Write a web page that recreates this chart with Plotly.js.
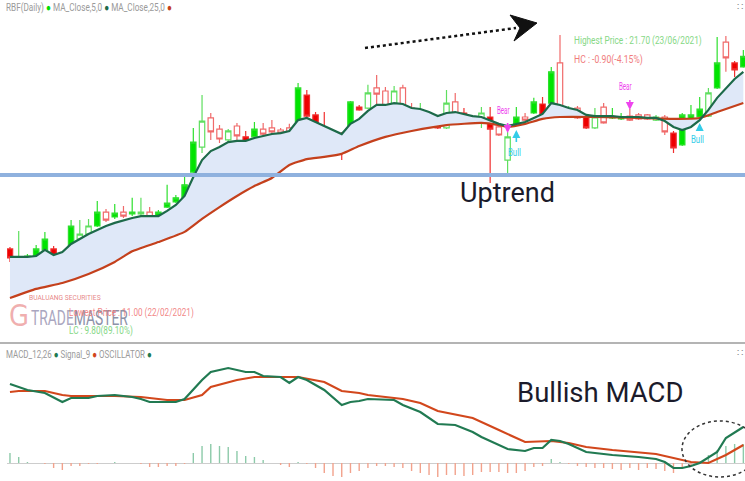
<!DOCTYPE html>
<html><head><meta charset="utf-8">
<script src="https://cdn.plot.ly/plotly-3.0.1.min.js"></script>
<style>html,body{margin:0;padding:0;background:#fff}#chart{width:745px;height:481px}</style>
</head><body><div id="chart"></div>
<script>
// ---- price data (per trading day) ----
const openP  = [12.65,12.06,12.27,12.35,12.61,12.65,11.84,12.14,13.07,13.28,13.62,14.21,14.00,14.21,14.13,14.13,14.21,14.00,14.42,14.64,14.81,15.90,16.96,18.19,17.72,17.26,17.85,17.39,17.39,17.72,17.77,17.68,17.77,18.02,19.16,18.32,17.64,17.55,17.17,17.39,18.65,18.61,19.46,19.33,18.61,19.46,18.61,18.49,18.32,18.23,17.77,18.87,18.40,18.15,18.02,18.23,17.81,16.41,17.94,18.23,18.40,18.78,18.82,20.52,18.32,18.61,18.23,17.77,18.65,18.19,18.15,18.27,18.32,18.32,18.10,18.23,17.55,17.05,17.98,18.23,18.27,19.46,21.40,20.52,20.35];
const highP  = [12.73,13.41,12.44,12.82,13.37,12.77,12.22,13.87,13.87,13.92,14.68,14.34,14.55,14.47,14.81,14.81,14.42,14.30,15.36,14.93,15.69,17.77,19.16,18.40,17.89,17.72,17.98,17.64,18.02,17.98,18.10,17.77,17.94,19.67,19.37,18.44,18.44,17.64,17.60,18.91,18.74,19.59,20.01,19.50,19.54,19.59,18.82,18.82,18.40,18.27,19.37,19.25,18.61,18.23,18.65,18.65,17.89,17.60,18.65,18.40,19.04,19.08,20.35,21.70,18.70,18.70,18.32,18.61,18.82,18.61,18.40,18.57,18.40,18.36,18.32,18.32,17.64,18.40,18.74,19.08,19.46,21.62,21.66,20.60,21.07];
const lowP   = [12.10,12.01,12.18,12.31,11.00,11.63,11.63,12.10,12.99,13.20,13.58,13.79,13.92,13.96,14.04,14.04,13.54,13.45,14.38,14.59,14.76,15.86,16.71,17.26,17.13,16.54,17.26,17.00,17.34,17.47,17.47,17.51,17.26,17.98,18.23,17.55,17.26,17.13,16.41,17.34,18.49,18.57,18.78,18.23,18.53,18.23,18.44,18.44,18.19,17.72,17.72,18.19,18.19,17.98,17.77,15.44,17.43,15.86,17.89,18.06,18.36,18.23,18.78,18.40,18.27,18.15,17.72,17.72,17.94,18.15,18.10,18.06,18.10,18.10,18.06,17.47,16.71,17.00,17.94,18.19,18.23,19.42,20.14,19.92,20.31];
const closeP = [12.27,12.27,12.35,12.65,13.07,11.89,12.14,13.62,13.28,13.62,14.21,13.87,14.17,14.04,14.21,14.21,13.96,14.21,14.59,14.81,15.36,17.17,18.06,17.60,17.30,17.64,17.43,17.05,17.72,17.51,17.60,17.55,17.51,19.46,18.27,17.60,17.51,17.26,17.05,18.87,18.53,19.25,19.20,18.65,19.33,18.27,18.49,18.53,18.23,17.77,18.82,18.23,18.23,18.02,18.40,17.72,17.47,17.39,18.23,18.10,18.87,18.27,20.14,18.44,18.44,18.19,17.77,18.23,17.98,18.23,18.23,18.10,18.15,18.15,18.23,17.60,16.92,18.32,18.32,18.57,19.25,20.52,20.73,20.22,20.80];
// 1 = solid body, 0 = hollow body (as drawn by the source platform)
const solidBody = [1,0,1,1,1,1,0,1,0,0,1,0,1,0,1,0,0,1,1,1,1,1,0,0,0,0,0,1,1,0,0,0,0,1,1,1,1,0,1,1,1,0,0,0,0,0,0,0,1,1,0,0,1,0,0,1,0,0,1,0,1,1,1,0,0,0,1,0,0,1,1,0,0,0,0,0,1,1,1,1,0,1,0,1,1];

// ---- moving averages ----
const ma5 = [12.31,12.31,12.31,12.35,12.61,12.39,12.52,12.86,13.07,13.28,13.45,13.62,13.75,13.87,13.96,14.04,14.04,14.04,14.26,14.51,14.89,15.69,16.41,16.79,16.96,17.17,17.22,17.22,17.34,17.43,17.51,17.55,17.64,18.10,18.19,18.02,17.85,17.68,17.51,17.94,18.15,18.49,18.74,18.74,18.82,18.78,18.61,18.57,18.44,18.27,18.40,18.44,18.36,18.27,18.23,18.10,17.94,17.85,17.94,18.02,18.19,18.36,18.82,18.74,18.61,18.53,18.32,18.27,18.27,18.27,18.23,18.23,18.23,18.19,18.19,18.06,17.81,17.68,17.81,18.10,18.53,19.04,19.46,19.84,20.14];
const ma25Idx = [0,3,6,9,12,14,17,20,22,24,26,28,30,32,34,36,38,40,43,46,50,54,56,57,59,61,63,67,72,76,79,81,84];
const ma25    = [10.57,10.96,11.21,11.59,12.10,12.55,12.94,13.37,13.92,14.42,14.89,15.31,15.65,16.20,16.45,16.54,16.67,17.00,17.39,17.64,17.89,17.98,17.89,17.81,17.94,18.15,18.23,18.23,18.19,18.15,18.19,18.44,18.82];

// ---- MACD panel ----
const macdIdx = [0,2,4,6,7,9,10,12,14,15,16,19,20,22,23,25,27,28,29,31,32,33,34,36,38,39,40,41,44,45,47,49,51,53,54,57,59,60,61,62,63,64,66,69,72,74,75,76,77,78,79,81,82,84];
const macd    = [0.79,0.73,0.70,0.61,0.65,0.65,0.67,0.68,0.66,0.64,0.61,0.61,0.64,0.83,0.91,0.95,0.91,0.91,0.87,0.86,0.80,0.86,0.83,0.73,0.58,0.61,0.62,0.64,0.63,0.58,0.51,0.39,0.38,0.31,0.26,0.14,0.12,0.15,0.15,0.23,0.22,0.19,0.11,0.08,0.06,0.04,0.01,-0.05,-0.05,-0.03,0.00,0.11,0.25,0.36];
const signalIdx = [0,1,4,6,7,10,12,15,18,20,22,23,26,28,31,33,36,38,40,41,45,47,49,53,56,59,62,64,66,69,74,78,80,82,84];
const signal    = [0.71,0.72,0.72,0.68,0.67,0.67,0.67,0.66,0.63,0.63,0.68,0.76,0.83,0.86,0.86,0.86,0.81,0.72,0.70,0.68,0.64,0.60,0.52,0.45,0.33,0.21,0.22,0.20,0.16,0.13,0.09,0.01,0.00,0.08,0.18];
const oscillator = [0.10,0.06,0.01,0.00,-0.01,-0.05,-0.07,-0.03,-0.03,-0.01,-0.01,0.00,0.01,0.00,0.00,-0.01,-0.04,-0.04,-0.03,-0.03,-0.01,0.10,0.17,0.19,0.17,0.16,0.12,0.07,0.06,0.03,0.00,-0.02,-0.04,0.01,-0.01,-0.05,-0.10,-0.13,-0.14,-0.10,-0.08,-0.05,-0.03,-0.03,-0.04,-0.05,-0.08,-0.10,-0.12,-0.14,-0.12,-0.12,-0.13,-0.12,-0.09,-0.09,-0.09,-0.10,-0.10,-0.08,-0.04,-0.03,0.04,0.01,-0.01,-0.03,-0.04,-0.05,-0.05,-0.06,-0.07,-0.05,-0.07,-0.05,-0.06,-0.08,-0.10,-0.04,-0.02,0.01,0.08,0.13,0.17,0.19,0.19];

// ---- signals & reference level ----
const sigIdx   = [57, 58, 71, 79];
const sigType  = ['Bear','Bull','Bear','Bull'];
const sigPrice = [17.55, 17.68, 18.53, 17.98];
const supportLevel = 15.78;
const highestText = 'Highest Price : 21.70 (23/06/2021)';
const hcText = 'HC : -0.90(-4.15%)';
const lowestText = 'Lowest Price : 11.00 (22/02/2021)';
const lcText = 'LC : 9.80(89.10%)';

// ---------------------------------------------------------
const W = 745, H = 481, ML = 7;
const PX = x => (x - ML) / (W - ML);
const PY = y => 1 - y / H;
const idx = closeP.map((_, i) => i);

function subset(flag) {
  const ii = idx.filter(i => solidBody[i] === flag);
  return {x: ii, open: ii.map(i => openP[i]), high: ii.map(i => highP[i]),
          low: ii.map(i => lowP[i]), close: ii.map(i => closeP[i])};
}
const solid = subset(1), hollow = subset(0);

const traces = [
  {type:'scatter', mode:'lines', x: ma25Idx, y: ma25, line:{width:0, color:'rgba(0,0,0,0)'}, hoverinfo:'skip'},
  {type:'scatter', mode:'lines', x: idx, y: ma5, line:{width:0, color:'rgba(0,0,0,0)'}, fill:'tonexty', fillcolor:'#dfe8f8', hoverinfo:'skip'},
  Object.assign({type:'candlestick', whiskerwidth:0,
    increasing:{line:{color:'#5fdf5f', width:1.2}, fillcolor:'#ffffff'},
    decreasing:{line:{color:'#f06a6a', width:1.2}, fillcolor:'#ffffff'}}, hollow),
  Object.assign({type:'candlestick', whiskerwidth:0,
    increasing:{line:{color:'#2ee02e', width:1.2}, fillcolor:'#00e400'},
    decreasing:{line:{color:'#f03030', width:1.2}, fillcolor:'#ee0000'}}, solid),
  {type:'scatter', mode:'lines', x: ma25Idx, y: ma25, line:{width:2.2, color:'#c4401c', shape:'spline', smoothing:0.4}},
  {type:'scatter', mode:'lines', x: idx, y: ma5, line:{width:2.2, color:'#1d6a4a'}},
  {type:'bar', x: idx, y: oscillator, yaxis:'y2', width:0.16,
    marker:{color: oscillator.map(v => v >= 0 ? '#8ccaa9' : '#f2a28c'), line:{width:0}}},
  {type:'scatter', mode:'lines', x: signalIdx, y: signal, yaxis:'y2', line:{width:2.2, color:'#d2471c'}},
  {type:'scatter', mode:'lines', x: macdIdx, y: macd, yaxis:'y2', line:{width:2.2, color:'#217a52'}}
];

const baseFont = 'Roboto, sans-serif';
function txt(x, y, text, size, color, family) {
  return {xref:'paper', yref:'paper', x: PX(x), y: PY(y), text, showarrow:false, align:'left',
    xanchor:'left', yanchor:'middle', borderpad:0, font:{family: family || baseFont, size, color}};
}
// target drawn widths (px) for the condensed labels of the source platform
const narrowWidth = {};
const annotations = [];
function addTxt(a, w) { if (w) narrowWidth[annotations.length] = w; annotations.push(a); }

addTxt(txt(5, 7, 'RBF(Daily) <span style="color:#00dd00">●</span> MA_Close,5,0 <span style="color:#1d6a4a">●</span> MA_Close,25,0 <span style="color:#c4401c">●</span>', 10.5, '#9a9a9a'), 166);
addTxt(txt(5, 354, 'MACD_12,26 <span style="color:#217a52">●</span> Signal_9 <span style="color:#d2471c">●</span> OSCILLATOR <span style="color:#217a52">●</span>', 10.5, '#9a9a9a'), 146);
addTxt(txt(736, 6, '∷', 10, '#888'));
addTxt(txt(736, 352, '∷', 10, '#888'));
addTxt(txt(573, 41, highestText, 11, '#86d886'), 128);
addTxt(txt(573, 59, hcText, 11, '#f07c7c'), 69);
addTxt(txt(8, 315, 'G', 30, 'rgba(225,95,95,0.5)', 'DejaVu Sans'), 20);
addTxt(txt(28, 297, 'BUALUANG SECURITIES', 8, 'rgba(226,110,110,0.85)'), 72);
addTxt(txt(30, 318, '<span style="color:#aaa6c0">TRADE</span><span style="color:#8d92a8">MASTER</span>', 21, '#999'), 97);
addTxt(txt(68, 312, lowestText, 11, 'rgba(240,120,120,0.9)'), 125);
addTxt(txt(68, 330, lcText, 11, '#86d886'), 64);
addTxt(txt(459, 193, 'Uptrend', 27, '#1b1b2b'));
addTxt(txt(516, 392, 'Bullish MACD', 27.5, '#1b1b2b'));
sigIdx.forEach((si, k) => {
  const bear = sigType[k] === 'Bear';
  const col = bear ? '#ee44ee' : '#33cce8';
  addTxt({xref:'x', yref:'y', x: si, y: sigPrice[k], text: sigType[k], showarrow:true, align:'left',
    ax:0, ay: bear ? -23 : (k === 3 ? 17 : 22), arrowcolor: col, arrowhead:2, arrowsize:1, arrowwidth:1.6,
    startstandoff: bear ? 6 : 3, font:{family: baseFont, size:10, color: col}}, 13);
});

const shapes = [
  {type:'line', xref:'paper', yref:'y', x0: PX(0), x1: PX(745), y0: supportLevel, y1: supportLevel,
    line:{color:'#8fb1de', width:4}},
  {type:'line', xref:'paper', yref:'paper', x0: PX(0), x1: PX(745), y0: PY(343), y1: PY(343),
    line:{color:'#b4b4b4', width:2}},
  {type:'line', xref:'paper', yref:'paper', x0: PX(365), y0: PY(48), x1: PX(516), y1: PY(28),
    line:{color:'#111', width:2.5, dash:'dot'}},
  {type:'path', xref:'paper', yref:'paper', fillcolor:'#111', line:{color:'#111', width:1},
    path:`M ${PX(537)} ${PY(23)} L ${PX(510)} ${PY(15)} L ${PX(520)} ${PY(28)} L ${PX(514)} ${PY(41)} Z`},
  {type:'circle', xref:'paper', yref:'paper', x0: PX(682), x1: PX(758), y0: PY(477), y1: PY(421),
    line:{color:'#333', width:1.5, dash:'dot'}}
];

const layout = {
  width: W, height: H, margin:{l: ML, r:0, t:0, b:0, pad:0},
  paper_bgcolor:'#ffffff', plot_bgcolor:'#ffffff', showlegend:false,
  font:{family: baseFont},
  boxgap: 0.12,
  xaxis:{range:[-0.34, 84.19], visible:false, rangeslider:{visible:false}, fixedrange:true},
  yaxis:{domain:[0.2869, 1], range:[8.67, 23.18], visible:false},
  yaxis2:{domain:[0, 0.2827], range:[-0.18, 1.18], anchor:'x', showgrid:false, showticklabels:false,
    ticks:'', showline:false, zeroline:true, zerolinecolor:'#cdcdcd', zerolinewidth:1},
  annotations, shapes
};
Plotly.newPlot('chart', traces, layout, {displayModeBar:false, staticPlot:true}).then(gd => {
  // condense labels horizontally (the source uses a narrow font) with a scale transform
  Object.keys(narrowWidth).forEach(k => {
    const t = gd.querySelector('.annotation[data-index="' + k + '"] text.annotation-text');
    if (!t) return;
    const bb = t.getBBox();
    if (!bb.width) return;
    const sx = narrowWidth[k] / bb.width;
    const prev = t.getAttribute('transform') || '';
    t.setAttribute('transform', prev + ' translate(' + bb.x + ',0) scale(' + sx + ',1) translate(' + (-bb.x) + ',0)');
  });
});
</script></body></html>
